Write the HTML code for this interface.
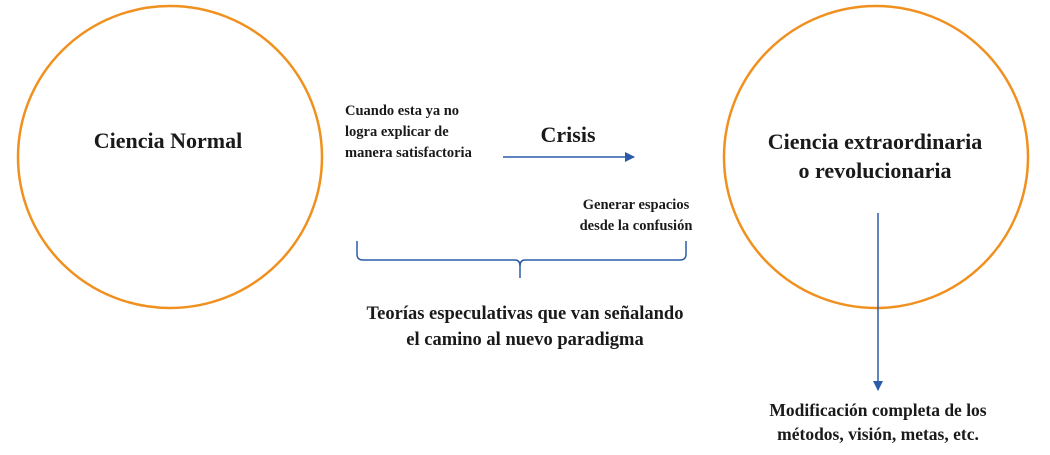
<!DOCTYPE html>
<html><head><meta charset="utf-8"><style>
body{margin:0;background:#fff;}
svg text{font-family:"Liberation Serif",serif;font-weight:bold;fill:#1a1a1a;}
</style></head><body>
<svg width="1050" height="450" viewBox="0 0 1050 450" xmlns="http://www.w3.org/2000/svg">
<defs><marker id="a" markerWidth="10" markerHeight="10" refX="9" refY="5" orient="auto" markerUnits="userSpaceOnUse"><path d="M0,0 L10,5 L0,10 z" fill="#2a5ca8"/></marker></defs>
<ellipse cx="170" cy="157" rx="152" ry="151" fill="none" stroke="#f0901e" stroke-width="2.5"/>
<ellipse cx="876" cy="157" rx="152" ry="151" fill="none" stroke="#f0901e" stroke-width="2.5"/>
<text x="168" y="148" font-size="22" text-anchor="middle">Ciencia Normal</text>
<text x="875" y="149" font-size="22" text-anchor="middle">Ciencia extraordinaria</text>
<text x="875" y="178" font-size="22" text-anchor="middle">o revolucionaria</text>
<text x="345" y="115" font-size="14.5">Cuando esta ya no</text>
<text x="345" y="136" font-size="14.5">logra explicar de</text>
<text x="345" y="157" font-size="14.5">manera satisfactoria</text>
<text x="568" y="142" font-size="22" text-anchor="middle">Crisis</text>
<line x1="503" y1="157" x2="634" y2="157" stroke="#2a5ca8" stroke-width="1.5" marker-end="url(#a)"/>
<text x="636" y="209" font-size="14.5" text-anchor="middle">Generar espacios</text>
<text x="636" y="230" font-size="14.5" text-anchor="middle">desde la confusión</text>
<path d="M357,241 V254 Q357,260 363,260 H515 Q520,260 520,266 V278 M520,266 Q520,260 525,260 H680 Q686,260 686,254 V241" fill="none" stroke="#2a5ca8" stroke-width="1.5"/>
<text x="525" y="319" font-size="18.5" text-anchor="middle">Teorías especulativas que van señalando</text>
<text x="525" y="345" font-size="18.5" text-anchor="middle">el camino al nuevo paradigma</text>
<line x1="878" y1="213" x2="878" y2="390" stroke="#2a5ca8" stroke-width="1.5" marker-end="url(#a)"/>
<text x="878" y="416" font-size="17.5" text-anchor="middle">Modificación completa de los</text>
<text x="878" y="440" font-size="17.5" text-anchor="middle">métodos, visión, metas, etc.</text>
</svg>
</body></html>
